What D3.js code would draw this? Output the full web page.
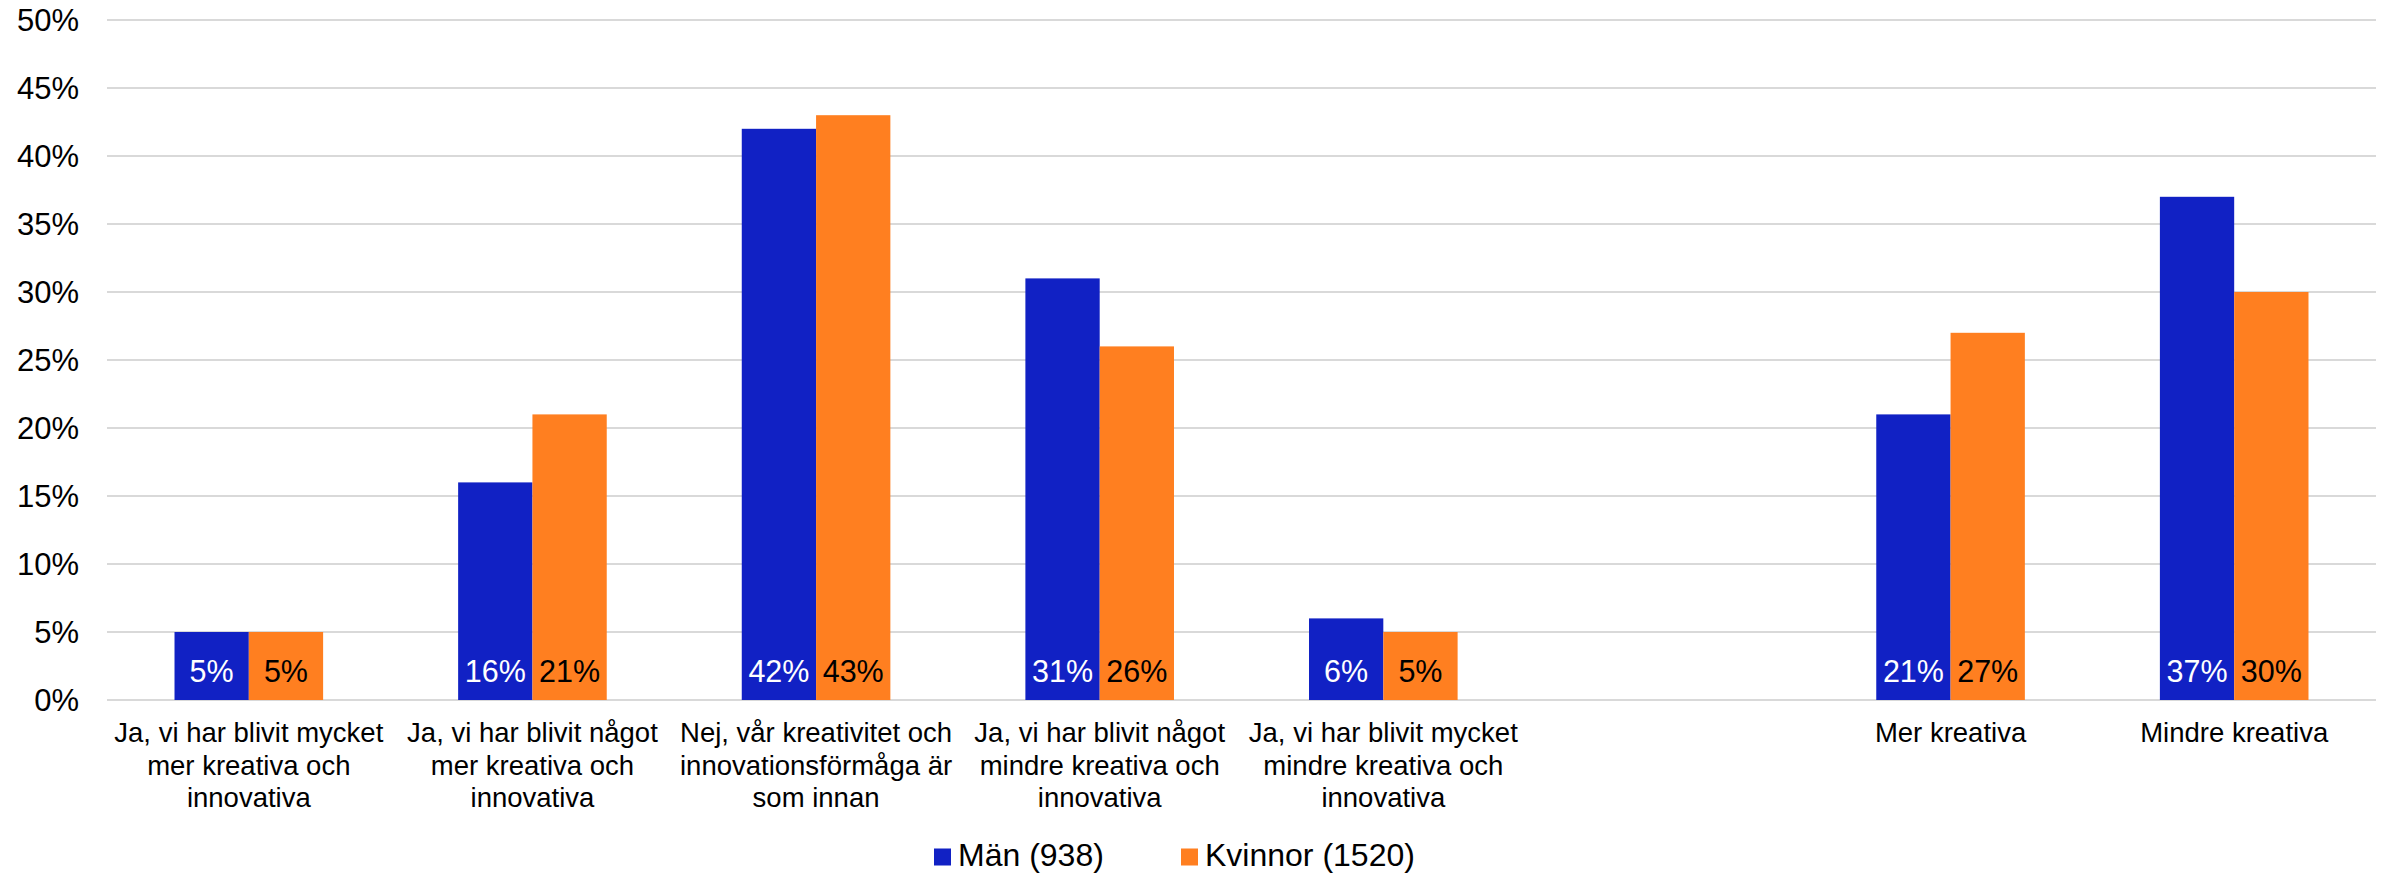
<!DOCTYPE html>
<html>
<head>
<meta charset="utf-8">
<script src="https://cdn.jsdelivr.net/npm/d3@7"></script>
<style>
  body { margin: 0; background: #fff; }
  svg text { font-family: "Liberation Sans", Arial, sans-serif; }
</style>
</head>
<body>
<div class="svg-container"></div>
<script>
// categories (the empty one is the gap between the two blocks)
var categories = [
  "Ja, vi har blivit mycket\nmer kreativa och\ninnovativa",
  "Ja, vi har blivit något\nmer kreativa och\ninnovativa",
  "Nej, vår kreativitet och\ninnovationsförmåga är\nsom innan",
  "Ja, vi har blivit något\nmindre kreativa och\ninnovativa",
  "Ja, vi har blivit mycket\nmindre kreativa och\ninnovativa",
  "",
  "Mer kreativa",
  "Mindre kreativa"
];
var seriesNames = ["Män (938)", "Kvinnor (1520)"];
var manValues = [5, 16, 42, 31, 6, null, 21, 37];
var kvinnorValues = [5, 21, 43, 26, 5, null, 27, 30];
var yTicks = [0, 5, 10, 15, 20, 25, 30, 35, 40, 45, 50];

var colors = ["#1121C4", "#FF7F20"];
var labelColors = ["#ffffff", "#000000"];

var svgWidth = 2385, svgHeight = 873;
var margin = {left: 107, right: 9, top: 20, bottom: 173};

var svg = d3.select(".svg-container").append("svg")
  .attr("width", svgWidth)
  .attr("height", svgHeight);

var x = d3.scaleBand()
  .domain(d3.range(categories.length))
  .range([margin.left, svgWidth - margin.right])
  .paddingInner(0)
  .paddingOuter(0);

var bandW = x.bandwidth();
var barW = 74.3;

var y = d3.scaleLinear()
  .domain([0, 50])
  .range([svgHeight - margin.bottom, margin.top]);

// gridlines
svg.append("g").attr("id", "grid").selectAll("line")
  .data(yTicks)
  .enter().append("line")
    .attr("x1", margin.left)
    .attr("x2", svgWidth - margin.right)
    .attr("y1", function(d){ return y(d); })
    .attr("y2", function(d){ return y(d); })
    .attr("stroke", "#D9D9D9")
    .attr("stroke-width", 2);

// y axis labels
var yAxis = d3.axisLeft(y).tickValues(yTicks).tickSize(0).tickPadding(0)
  .tickFormat(function(d){ return d + "%"; });
var yg = svg.append("g")
  .attr("transform", "translate(79,0)")
  .call(yAxis);
yg.select(".domain").remove();
yg.selectAll("text")
  .attr("font-size", 31)
  .attr("font-family", "Liberation Sans, Arial, sans-serif")
  .attr("fill", "#000")
  .attr("dy", "0.35em");

// bars
var series = [manValues, kvinnorValues];
var barData = [];
series.forEach(function(vals, s) {
  vals.forEach(function(v, i) {
    if (v === null) return;
    barData.push({i: i, s: s, v: v});
  });
});

var barX = function(d) {
  return x(d.i) + bandW / 2 + (d.s === 0 ? -barW : 0);
};

svg.append("g").attr("id", "bars").selectAll("rect")
  .data(barData)
  .enter().append("rect")
    .attr("x", barX)
    .attr("y", function(d){ return y(d.v); })
    .attr("width", barW)
    .attr("height", function(d){ return y(0) - y(d.v); })
    .attr("fill", function(d){ return colors[d.s]; });

svg.append("g").attr("id", "bar_labels").selectAll("text")
  .data(barData)
  .enter().append("text")
    .attr("x", function(d){ return barX(d) + barW / 2; })
    .attr("y", y(0) - 18)
    .attr("text-anchor", "middle")
    .attr("font-size", 30.5)
    .attr("fill", function(d){ return labelColors[d.s]; })
    .text(function(d){ return d.v + "%"; });

// category labels
var catG = svg.append("g").attr("id", "cat_labels").selectAll("text")
  .data(categories)
  .enter().append("text")
    .attr("text-anchor", "middle")
    .attr("font-size", 27.5)
    .attr("fill", "#000");
catG.each(function(d, i) {
  var t = d3.select(this);
  d.split("\n").forEach(function(line, k) {
    t.append("tspan")
      .attr("x", x(i) + bandW / 2)
      .attr("y", 742 + k * 32.5)
      .text(line);
  });
});

// legend
var legendItems = [
  {name: seriesNames[0], color: colors[0], x: 934},
  {name: seriesNames[1], color: colors[1], x: 1181}
];
var leg = svg.append("g").attr("id", "legend").selectAll("g")
  .data(legendItems)
  .enter().append("g")
    .attr("transform", function(d){ return "translate(" + d.x + ",857)"; });
leg.append("rect")
  .attr("x", 0).attr("y", -8.5)
  .attr("width", 17).attr("height", 17)
  .attr("fill", function(d){ return d.color; });
leg.append("text")
  .attr("x", 24)
  .attr("y", 9)
  .attr("font-size", 32)
  .attr("fill", "#000")
  .text(function(d){ return d.name; });
</script>
</body>
</html>
